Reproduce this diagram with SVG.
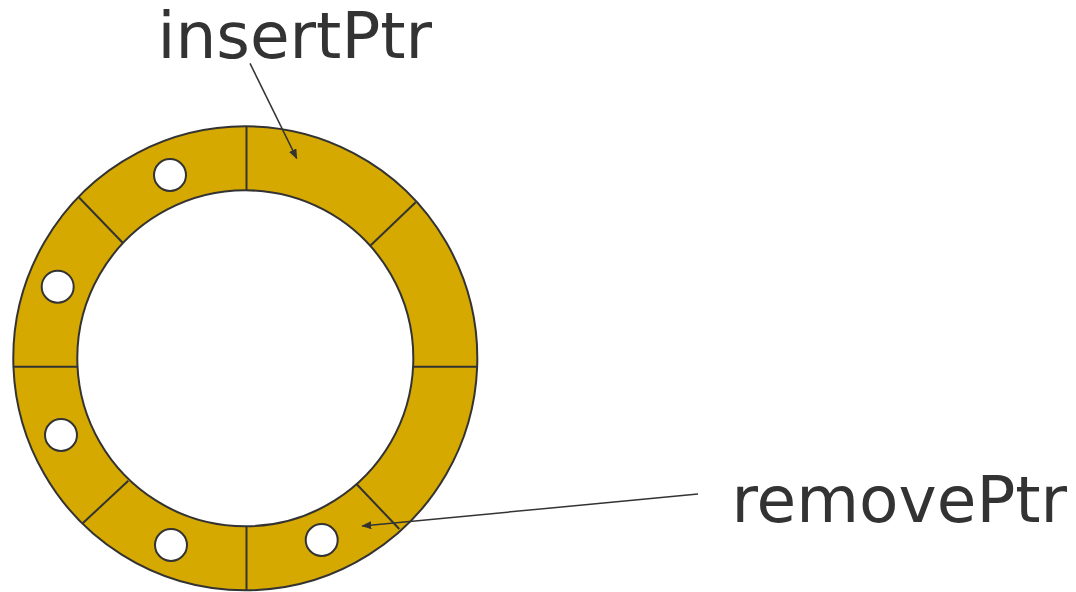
<svg xmlns="http://www.w3.org/2000/svg" width="1076" height="592" viewBox="0 0 1076 592">
  <style>
    .ring { fill: #D5A900; stroke: #333333; stroke-width: 2; }
    .hole { fill: #FFFFFF; stroke: #333333; stroke-width: 2; }
    .div { stroke: #333333; stroke-width: 2; fill: none; }
    .lbl { font-family: "DejaVu Sans", Verdana, sans-serif; font-size: 64.5px; fill: #333333; }
    .ptr { stroke: #333333; stroke-width: 1.5; fill: none; marker-end: url(#tip); }
  </style>
  <defs>
    <marker id="tip" viewBox="0 0 10 8" refX="9" refY="4" markerWidth="10" markerHeight="8" markerUnits="userSpaceOnUse" orient="auto">
      <path d="M0,0 L10,4 L0,8 Z" fill="#333333"/>
    </marker>
  </defs>

  <!-- ring buffer: annulus split into eight slots -->
  <g id="ring">
    <path class="ring" fill-rule="evenodd" d="M245.3,126.3 A232,232 0 1 1 245.29,126.3 Z M245.3,190.3 A168,168 0 1 0 245.31,190.3 Z"/>
    <line class="div" x1="246.5" y1="127" x2="246.5" y2="190.5"/>
    <line class="div" x1="246.5" y1="526.5" x2="246.5" y2="590"/>
    <line class="div" x1="13.5" y1="366.7" x2="77.5" y2="366.7"/>
    <line class="div" x1="413.3" y1="366.7" x2="477.3" y2="366.7"/>
    <line class="div" x1="78.3" y1="196.7" x2="122.7" y2="242.7"/>
    <line class="div" x1="415.7" y1="202.3" x2="370" y2="246"/>
    <line class="div" x1="82.7" y1="523.3" x2="128.3" y2="480.7"/>
    <line class="div" x1="356.7" y1="484.3" x2="399.3" y2="529"/>
  </g>

  <!-- occupied slots -->
  <g id="items">
    <circle class="hole" cx="170" cy="175" r="16"/>
    <circle class="hole" cx="57.7" cy="286.7" r="16"/>
    <circle class="hole" cx="61" cy="435" r="16"/>
    <circle class="hole" cx="171" cy="545" r="16"/>
    <circle class="hole" cx="321.7" cy="540" r="16"/>
  </g>

  <g id="insertPtr">
    <text class="lbl" x="157.5" y="58.3">insertPtr</text>
  </g>
  <g id="removePtr">
    <text class="lbl" x="731.5" y="521.5">removePtr</text>
  </g>

  <g id="connectors">
    <line class="ptr" x1="250" y1="63.3" x2="296.7" y2="158.3"/>
    <line class="ptr" x1="698" y1="494" x2="362.3" y2="526"/>
  </g>
</svg>
